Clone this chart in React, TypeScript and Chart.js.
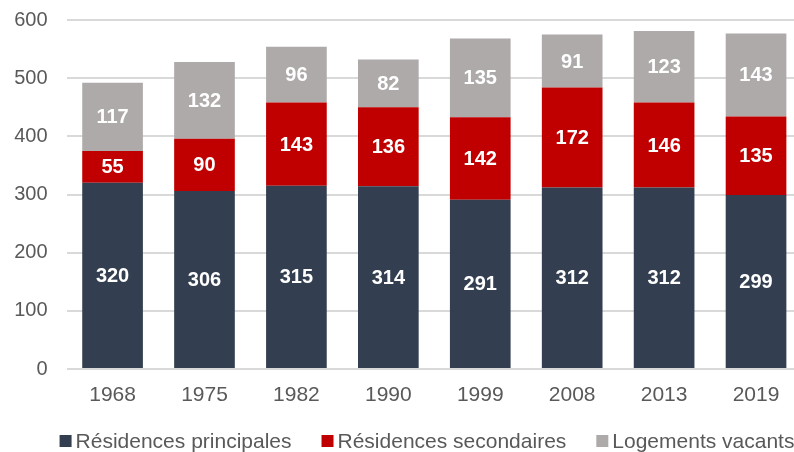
import React, { useEffect, useRef } from "react";
import { Chart, registerables } from "chart.js";

Chart.register(...registerables);

const categories = ["1968", "1975", "1982", "1990", "1999", "2008", "2013", "2019"];
const principales = [320, 306, 315, 314, 291, 312, 312, 299];
const secondaires = [55, 90, 143, 136, 142, 172, 146, 135];
const vacants = [117, 132, 96, 82, 135, 91, 123, 143];
const seriesNames = ["Résidences principales", "Résidences secondaires", "Logements vacants"];
const seriesColors = ["#333F50", "#C00000", "#AEAAAA"];
const yTicks = [0, 100, 200, 300, 400, 500, 600];

const FONT = '"Liberation Sans", Arial, sans-serif';

const dataLabelPlugin = {
  id: "dataLabels",
  afterDatasetsDraw(chart: any) {
    const ctx = chart.ctx;
    ctx.save();
    ctx.font = `bold 20px ${FONT}`;
    ctx.fillStyle = "#FFFFFF";
    ctx.textAlign = "center";
    ctx.textBaseline = "middle";
    chart.data.datasets.forEach((ds: any, i: number) => {
      const meta = chart.getDatasetMeta(i);
      meta.data.forEach((bar: any, j: number) => {
        const y = (bar.y + bar.base) / 2;
        ctx.fillText(String(ds.data[j]), bar.x, y + 1);
      });
    });
    ctx.restore();
  },
};

const legendPlugin = {
  id: "customLegend",
  afterDraw(chart: any) {
    const ctx = chart.ctx;
    ctx.save();
    ctx.font = `21px ${FONT}`;
    const sq = 12;
    const gapT = 4;
    const gapI = 30;
    const widths = seriesNames.map((n) => ctx.measureText(n).width);
    const total = widths.reduce((a, w) => a + sq + gapT + w, 0) + gapI * (seriesNames.length - 1);
    let x = chart.width / 2 - total / 2;
    const y = 441;
    ctx.textBaseline = "middle";
    ctx.textAlign = "left";
    seriesNames.forEach((name, i) => {
      ctx.fillStyle = seriesColors[i];
      ctx.fillRect(x, y - sq / 2, sq, sq);
      ctx.fillStyle = "#595959";
      ctx.fillText(name, x + sq + gapT, y + 1);
      x += sq + gapT + widths[i] + gapI;
    });
    ctx.restore();
  },
};

export default function App() {
  const ref = useRef<HTMLCanvasElement | null>(null);

  useEffect(() => {
    if (!ref.current) return;
    const data = [principales, secondaires, vacants];
    const chart = new Chart(ref.current, {
      type: "bar",
      data: {
        labels: categories,
        datasets: seriesNames.map((name, i) => ({
          label: name,
          data: data[i],
          backgroundColor: seriesColors[i],
          borderWidth: 0,
          barPercentage: 0.66,
          categoryPercentage: 1,
        })),
      },
      options: {
        responsive: false,
        animation: false,
        devicePixelRatio: 1,
        layout: { padding: { top: 20, right: 52, bottom: 33, left: 0 } },
        plugins: {
          legend: { display: false },
          tooltip: { enabled: false },
        },
        scales: {
          x: {
            stacked: true,
            grid: { display: false, drawTicks: false },
            border: { display: false },
            afterFit(scale: any) {
              scale.height = 50;
            },
            ticks: {
              color: "#595959",
              font: { family: FONT, size: 21 },
              padding: 14,
            },
          },
          y: {
            stacked: true,
            min: 0,
            max: 600,
            afterBuildTicks(scale: any) {
              scale.ticks = yTicks.map((v) => ({ value: v }));
            },
            afterFit(scale: any) {
              scale.width = 66.6;
              scale.paddingTop = 0;
              scale.paddingBottom = 0;
            },
            grid: { color: "#D9D9D9", lineWidth: 2, drawTicks: false },
            border: { display: false },
            ticks: {
              color: "#595959",
              font: { family: FONT, size: 20 },
              padding: 19,
            },
          },
        },
      },
      plugins: [dataLabelPlugin, legendPlugin],
    });
    return () => chart.destroy();
  }, []);

  return (
    <div
      style={{
        position: "fixed",
        left: 0,
        top: 0,
        width: 794,
        height: 452,
        overflow: "hidden",
        background: "#FFFFFF",
      }}
    >
      <canvas ref={ref} width={854} height={452} style={{ width: 854, height: 452, display: "block" }} />
    </div>
  );
}
